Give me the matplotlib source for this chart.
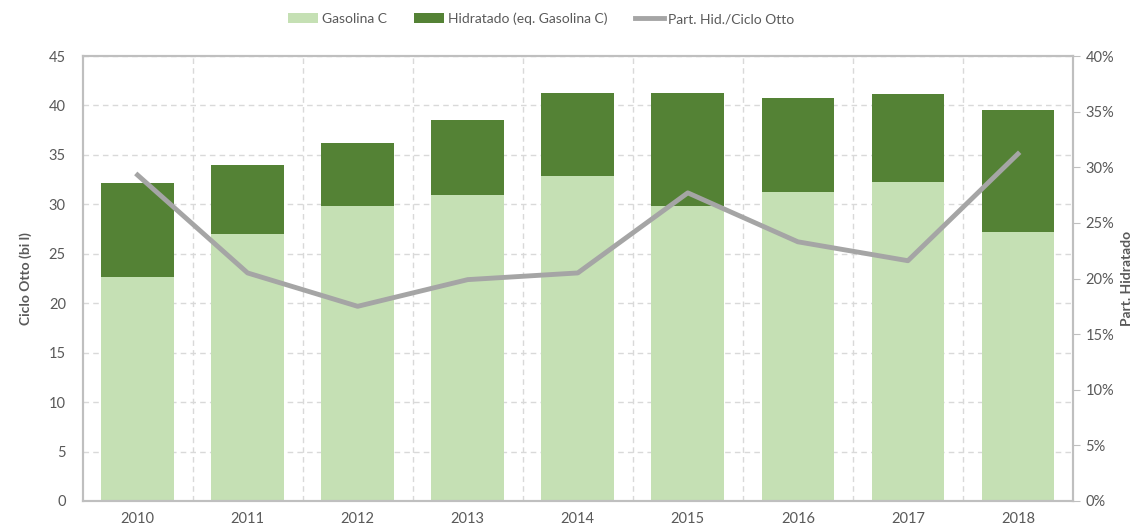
import numpy as np
import matplotlib

matplotlib.use('Agg')
import matplotlib.pyplot as plt
from matplotlib.ticker import PercentFormatter

plt.rcParams['font.family'] = ['Lato', 'DejaVu Sans']

anos = ['2010', '2011', '2012', '2013', '2014', '2015', '2016', '2017', '2018']
total_otto = [32.15, 34.0, 36.2, 38.55, 41.25, 41.25, 40.75, 41.15, 39.5]
gasolina_c = [22.65, 27.0, 29.8, 30.9, 32.9, 29.8, 31.25, 32.25, 27.2]
part_hid = [29.3, 20.5, 17.5, 19.9, 20.5, 27.7, 23.3, 21.6, 31.2]

hidratado = [t - g for t, g in zip(total_otto, gasolina_c)]

cinza = '#595959'
borda = '#BFBFBF'

fig = plt.figure(figsize=(11.4, 5.31), dpi=100)
ax = fig.add_axes([0.0724, 0.0565, 0.8688, 0.838])
x = np.arange(len(anos))

b1 = ax.bar(x, gasolina_c, width=0.66, color='#C5E0B4', label='Gasolina C', zorder=2)
b2 = ax.bar(x, hidratado, width=0.66, bottom=gasolina_c, color='#548235',
            label='Hidratado (eq. Gasolina C)', zorder=2)

ax.set_ylim(0, 45)
ax.set_yticks(range(0, 46, 5))
ax.set_xlim(-0.5, len(anos) - 0.5)
ax.set_xticks(x)
ax.set_xticklabels(anos)
ax.set_xticks(np.arange(0.5, len(anos) - 0.5, 1), minor=True)
ax.grid(axis='y', which='major', linestyle=(0, (4, 3)), color='#D9D9D9', lw=1, zorder=0)
ax.grid(axis='x', which='minor', linestyle=(0, (4, 3)), color='#D9D9D9', lw=1, zorder=0)
ax.tick_params(axis='both', which='both', length=0, colors=cinza, labelsize=10.5, pad=8)
ax.tick_params(axis='y', pad=12)
for s in ax.spines.values():
    s.set_color(borda)
    s.set_linewidth(1.5)
ax.set_ylabel('Ciclo Otto (bi l)', fontweight='bold', color=cinza, fontsize=10, labelpad=12)

ax2 = ax.twinx()
l1, = ax2.plot(x, part_hid, color='#A5A5A5', lw=3.5, label='Part. Hid./Ciclo Otto', zorder=3)
ax2.set_ylim(0, 40)
ax2.set_yticks(range(0, 41, 5))
ax2.yaxis.set_major_formatter(PercentFormatter(decimals=0))
ax2.tick_params(axis='y', length=5, color=borda, colors=cinza, labelsize=10.5, pad=4)
for s in ax2.spines.values():
    s.set_color(borda)
    s.set_linewidth(1.5)
ax2.set_ylabel('Part. Hidratado', fontweight='bold', color=cinza, fontsize=10, labelpad=5)

fig.legend(handles=[b1, b2, l1], loc='upper center', bbox_to_anchor=(0.475, 1.0), ncol=3,
           frameon=False, fontsize=10, labelcolor=cinza, handlelength=2.1,
           handletextpad=0.3, columnspacing=2.0)

fig.savefig('out.png', dpi=100)
